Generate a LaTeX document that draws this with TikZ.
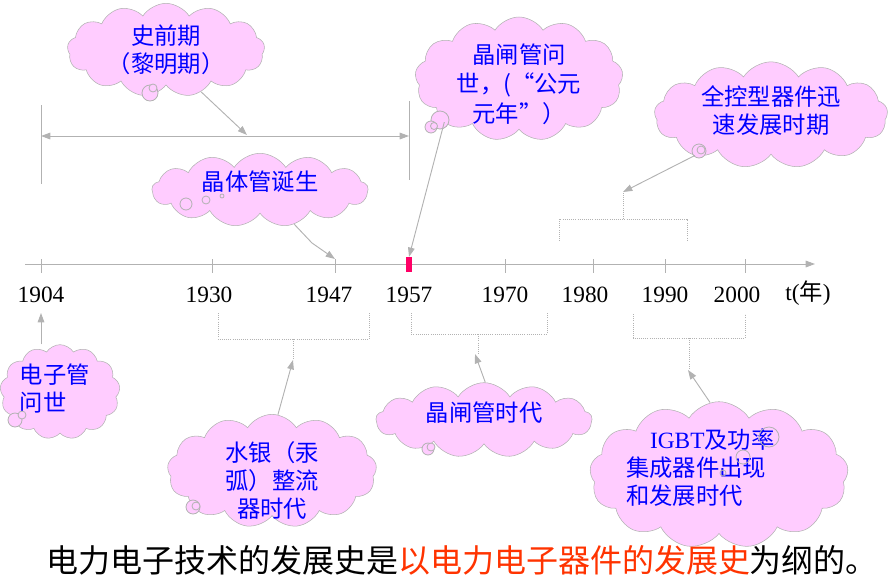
\documentclass[tikz,border=0pt]{standalone}
\usepackage{fontspec}
\setmainfont{Liberation Serif}
\newfontfamily\cjk{Noto Sans CJK SC}
\usepackage{tikz}
\usetikzlibrary{positioning, shapes.symbols, arrows.meta}
\definecolor{puff}{HTML}{FFCCFF}
\definecolor{rim}{HTML}{B2B2B2}
\definecolor{ink}{HTML}{0000FF}
\definecolor{hot}{HTML}{FF3300}
\definecolor{markred}{HTML}{FF0066}

\begin{document}
\begin{tikzpicture}[x = 0.75pt, y = -0.75pt,
    cloudbox/.style = { cloud, cloud puffs = 13, cloud puff arc = 115, cloud ignores aspect,
      draw = rim, fill = puff, text = ink, align = center, inner sep = 0pt,
      font = \cjk\fontsize{17.5}{21}\selectfont },
    pointer/.style = { draw = rim, line width = .7pt, -{Triangle[length = 7pt, width = 5pt]} },
    bracket/.style = { draw = rim, densely dotted, line width = .6pt },
    bubble/.style = { draw = rim, fill = puff, line width = .6pt },
    year/.style = { font = \fontsize{17.5}{20}\selectfont }
  ]
  \useasboundingbox (0,0) rectangle (889,586);

  % time axis
  \coordinate (ax0) at (25,264);
  \coordinate (ax1) at (815,264);
  \draw [pointer] (ax0) -- (ax1);
  \foreach \yr/\xx in {1904/41, 1930/212, 1947/335, 1970/505, 1980/593, 1990/665, 2000/745}
    \draw [rim, line width = .6pt] (\xx,259) coordinate (t\yr) -- (\xx,273);
  \node [fill = markred, minimum width = 4.5pt, minimum height = 11pt, inner sep = 0pt] (t1957) at (409,264.5) {};

  \node [year] (l1904) at (41,295) {1904};
  \node [year] (l1930) at (209,295) {1930};
  \node [year] (l1947) at (329,295) {1947};
  \node [year] (l1957) at (409,295) {1957};
  \node [year] (l1970) at (505,295) {1970};
  \node [year] (l1980) at (585,295) {1980};
  \node [year] (l1990) at (665,295) {1990};
  \node [year] (l2000) at (737,295) {2000};
  \node [year] (lt) at (808,293) {t({\cjk 年})};

  % span 1904 - 1957
  \coordinate (d0) at (41,136);
  \coordinate (d1) at (409,136);
  \draw [rim, line width = .6pt] (41,105) -- (41,184);
  \draw [rim, line width = .6pt] (409,101) -- (409,180);
  \draw [pointer, {Triangle[length = 7pt, width = 5pt]}-{Triangle[length = 7pt, width = 5pt]}] (d0) -- (d1);

  % clouds above the axis
  \node [cloudbox, minimum width = 148pt, minimum height = 70pt] (dawn) at (166,50) {史前期\\（黎明期）};
  \node [cloudbox, minimum width = 162pt, minimum height = 52pt] (transistor) at (260,190) {晶体管诞生\\[-7.5pt]};
  \node [cloudbox, font = \cjk\fontsize{17.5}{22}\selectfont, minimum width = 156pt, minimum height = 93pt] (scr) at (519,79)
    {晶闸管问\\世，(“公元\\元年”）\\[-28pt]};
  \node [cloudbox, minimum width = 175pt, minimum height = 71pt] (fullctl) at (771,115) {全控型器件迅\\速发展时期\\[-13pt]};

  \draw [bubble] (150,93) circle [radius = 8];
  \draw [bubble] (153,88) circle [radius = 4];
  \draw [bubble] (186,204) circle [radius = 6];
  \draw [bubble] (206,200) circle [radius = 4];
  \draw [bubble] (222,196) circle [radius = 2];
  \draw [bubble] (440,120) circle [radius = 9];
  \draw [bubble] (431,127) circle [radius = 6];
  \draw [bubble] (434,126) circle [radius = 3.5];
  \draw [bubble] (699,151) circle [radius = 7];
  \draw [bubble] (701,150) circle [radius = 4];

  \draw [pointer] (dawn.-50) -- (247,135);
  \coordinate (kink) at (312,243);
  \draw [pointer] (transistor.-45) -- (kink) -- (t1947);
  \draw [pointer] (scr.-150) -- (t1957.north);

  % bracket 1980 - 1990
  \coordinate (b4) at (623,192);
  \draw [bracket] (559,241) |- (687,219) -- (687,241);
  \draw [bracket] (623,219) -- (b4);
  \draw [pointer] (fullctl.208) -- (b4);

  % clouds below the axis
  \node [cloudbox, align = left, minimum width = 90pt, minimum height = 71pt] (tube) at (60,392)
    {\hspace*{-8pt}电子管\\\hspace*{-8pt}问世\\[-14pt]};
  \node [cloudbox, minimum width = 157pt, minimum height = 85pt] (mercury) at (272,471) {水银（汞\\弧）整流\\器时代\\[-34.5pt]};
  \node [cloudbox, minimum width = 162pt, minimum height = 56pt] (scrage) at (484,420) {晶闸管时代\\[-9pt]};
  \node [cloudbox, align = left, minimum width = 194pt, minimum height = 94pt] (igbt) at (719,475)
    {\hspace*{-10pt}{\rmfamily IGBT}及功率\\\hspace*{-28pt}集成器件出现\\\hspace*{-28pt}和发展时代\\[-9pt]};

  \draw [bubble] (15,420) circle [radius = 7];
  \draw [bubble] (22,415) circle [radius = 4];
  \draw [bubble] (193,507) circle [radius = 7];
  \draw [bubble] (196,506) circle [radius = 4];
  \draw [bubble] (428,449) circle [radius = 6];
  \draw [bubble] (431,447) circle [radius = 4];
  \draw [rim, line width = .6pt] (769,437) circle [radius = 10];
  \draw [rim, line width = .6pt] (743,457) circle [radius = 7];
  \draw [rim, line width = .6pt] (723,473) circle [radius = 3];

  \coordinate (b1) at (293,360);
  \draw [bracket] (218,313) |- (369,339) -- (369,313);
  \draw [bracket] (293,339) -- (b1);
  \coordinate (b2) at (475,354);
  \draw [bracket] (411,313) |- (547,334) -- (547,313);
  \draw [bracket] (478,334) -- (478,354);
  \coordinate (b3) at (688,370);
  \draw [bracket] (633,314) |- (745,338) -- (745,314);
  \draw [bracket] (689,338) -- (689,368);

  \draw [pointer] (t1904 |- tube.north) -- (t1904 |- 0,313);
  \draw [pointer] (mercury.84) -- (b1);
  \draw [pointer] (scrage.88) -- (b2);
  \draw [pointer] (igbt.97) -- (b3);

  \node (motto) at (462,560) {\cjk\fontsize{24}{28}\selectfont 电力电子技术的发展史是\textcolor{hot}{以电力电子器件的发展史}为纲的。};
\end{tikzpicture}
\end{document}
